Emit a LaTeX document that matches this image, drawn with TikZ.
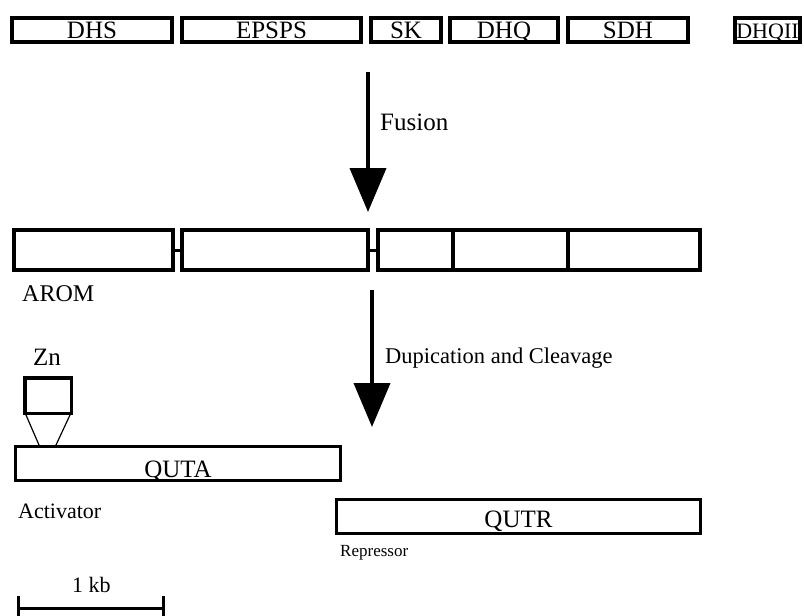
\documentclass[tikz,border=0pt]{standalone}
\usepackage{fontspec}
\setmainfont{Liberation Serif}
\usetikzlibrary{arrows.meta,calc}

\tikzset{
  genebox/.style={draw, line width=4pt, inner sep=0pt, minimum height=24pt,
    text height=16.5pt, text depth=0pt, font=\fontsize{25}{29}\selectfont},
  aromseg/.style={draw, line width=4pt, inner sep=0pt, minimum height=40pt},
  qutbox/.style={draw, line width=3.3pt, inner sep=0pt, text depth=0pt,
    font=\fontsize{25}{29}\selectfont},
  bigarrow/.style={line width=4pt, -{Triangle[length=44pt,width=36pt]}},
  lbl/.style={anchor=base west, inner sep=0pt},
}

\begin{document}
\begin{tikzpicture}[x=1pt,y=-1pt]
  \useasboundingbox (0,0) rectangle (804,616);

  % Separate enzymes
  \foreach \nm/\cx/\w/\lab in {dhs/92/160/DHS, epsps/271.5/179/EPSPS,
      sk/406/70/SK, dhq/504/108/DHQ, sdh/628/120/SDH}{
    \node[genebox, minimum width=\w pt] (\nm) at (\cx,30) {\lab};
  }
  \node[genebox, minimum width=65pt, font=\fontsize{22}{26}\selectfont] (dhqii) at (767.5,30) {DHQII};

  % Fusion arrow
  \coordinate (fustop) at (368,72);
  \coordinate (fusend) at (368,212);
  \draw[bigarrow] (fustop) -- (fusend);
  \node[lbl, font=\fontsize{25}{29}\selectfont] (fusion) at (380,130) {Fusion};

  % AROM
  \foreach \nm/\cx/\w in {a1/93.5/159, a2/275/186, a3/415.5/75, a4/510.5/115, a5/634/132}{
    \node[aromseg, minimum width=\w pt] (\nm) at (\cx,250) {};
  }
  \draw[line width=3pt] (a1.east) -- (a2.west);
  \draw[line width=3pt] (a2.east) -- (a3.west);
  \node[lbl, font=\fontsize{24}{28}\selectfont] (arom) at (22,301) {AROM};

  % Duplication arrow
  \coordinate (duptop) at (372,290);
  \coordinate (dupend) at (372,427);
  \draw[bigarrow] (duptop) -- (dupend);
  \node[lbl, font=\fontsize{22.5}{27}\selectfont] (dupl) at (385,363) {Dupication and Cleavage};

  % QUTA with zinc finger
  \node[qutbox, minimum width=324.7pt, minimum height=33.7pt, text height=27pt] (quta) at (178,463.5) {QUTA};
  \node[qutbox, line width=3.5pt, minimum width=46.5pt, minimum height=35.5pt] (zn) at (48,395.5) {};
  \draw[line width=1.2pt] ($(zn.south west)+(3,0)$) -- ($(quta.north west)+(25,0)$);
  \draw[line width=1.2pt] ($(zn.south east)+(-3,0)$) -- ($(quta.north west)+(42,0)$);
  \node[lbl, font=\fontsize{25}{29}\selectfont] (znlab) at (33,365) {Zn};
  \node[lbl, font=\fontsize{22}{26}\selectfont] (act) at (18,518) {Activator};

  % QUTR
  \node[qutbox, minimum width=363.7pt, minimum height=33.7pt, text height=21pt] (qutr) at (518.5,516.5) {QUTR};
  \node[lbl, font=\fontsize{17}{20}\selectfont] (rep) at (340,556) {Repressor};

  % Scale bar
  \coordinate (kbl) at (18,608);
  \coordinate (kbr) at (163,608);
  \draw[line width=3pt] (kbl) -- (kbr);
  \draw[line width=3pt] ($(kbl)+(0,-12)$) -- ($(kbl)+(0,10)$);
  \draw[line width=3pt] ($(kbr)+(0,-12)$) -- ($(kbr)+(0,10)$);
  \node[lbl, font=\fontsize{22}{26}\selectfont] (kb) at (72,592) {1 kb};
\end{tikzpicture}
\end{document}
